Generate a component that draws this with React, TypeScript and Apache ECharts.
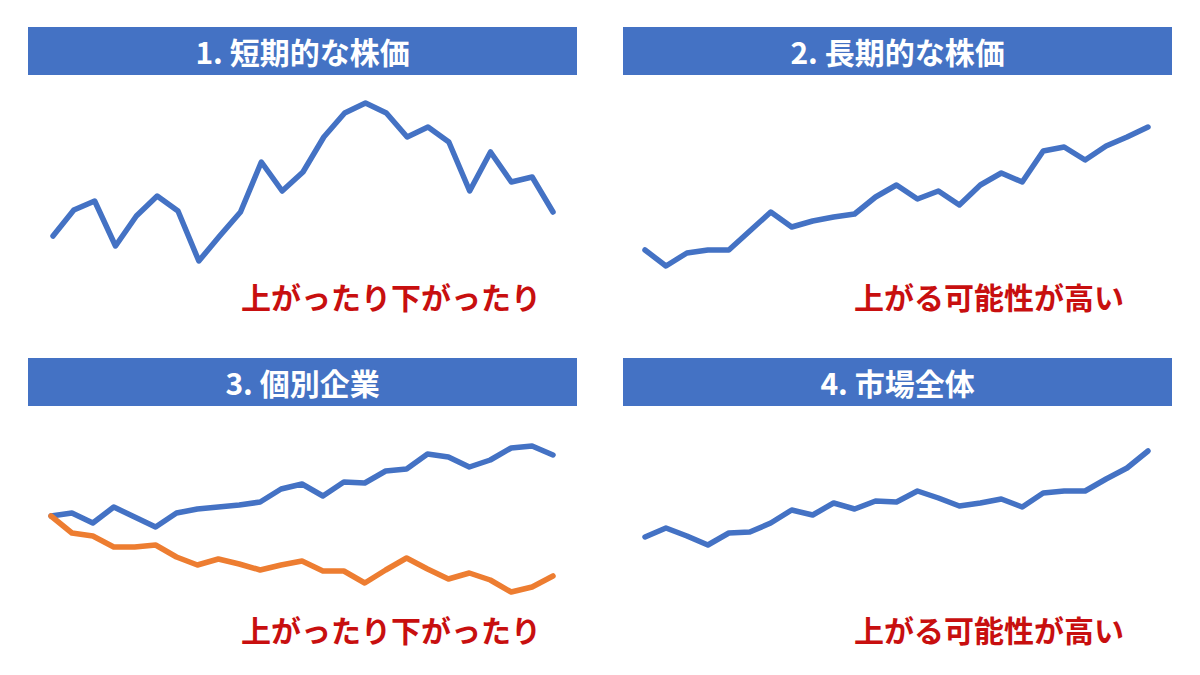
import React, { useEffect, useRef } from "react";
import * as echarts from "echarts";

const periods = ["1", "2", "3", "4", "5", "6", "7", "8", "9", "10", "11", "12", "13", "14", "15", "16", "17", "18", "19", "20", "21", "22", "23", "24", "25"];

const shortTerm = [64, 90, 99, 54, 84, 104, 89, 39, 64, 88, 138, 109, 128, 163, 187, 197, 187, 163, 173, 158, 109, 148, 118, 123, 88];
const longTerm = [50, 34, 47, 50, 50, 69, 88, 73, 79, 83, 86, 103, 115, 101, 109, 95, 115, 127, 118, 149, 153, 140, 154, 163, 173];
const companyUp = [104, 107, 97, 113, 103, 93, 107, 111, 113, 115, 118, 131, 136, 124, 138, 137, 149, 151, 166, 163, 153, 160, 172, 174, 165];
const companyDown = [104, 87, 84, 73, 73, 75, 63, 55, 61, 56, 50, 55, 59, 49, 49, 37, 50, 62, 51, 41, 47, 40, 28, 33, 44];
const market = [83, 92, 84, 75, 87, 88, 97, 110, 105, 117, 111, 119, 118, 129, 122, 114, 117, 121, 113, 127, 129, 129, 141, 152, 169];

const titles = ["1. 短期的な株価", "2. 長期的な株価", "3. 個別企業", "4. 市場全体"];
const notes = ["上がったり下がったり", "上がる可能性が高い", "上がったり下がったり", "上がる可能性が高い"];

const BLUE = "#4472C4";
const ORANGE = "#ED7D31";
const RED = "#C80F0F";
const FONT = '"Noto Sans CJK JP", "Noto Sans", sans-serif';

export default function App() {
  const ref = useRef<HTMLDivElement>(null);

  useEffect(() => {
    if (!ref.current) return;
    const chart = echarts.init(ref.current, undefined, { renderer: "svg" });

    const grids = [
      { left: 53, top: 90, width: 500, height: 180 },
      { left: 645, top: 90, width: 503, height: 180 },
      { left: 51, top: 420, width: 502, height: 200 },
      { left: 645, top: 420, width: 503, height: 200 },
    ];
    const yRanges = [
      [30, 210],
      [30, 210],
      [0, 200],
      [0, 200],
    ];

    const headerBoxes = [
      { x: 28, y: 27 },
      { x: 623, y: 27 },
      { x: 28, y: 358 },
      { x: 623, y: 358 },
    ];
    const notePos = [
      { x: 391, y: 296 },
      { x: 989, y: 296 },
      { x: 391, y: 629 },
      { x: 989, y: 629 },
    ];

    const graphic: any[] = [];
    headerBoxes.forEach((b, i) => {
      graphic.push({
        type: "rect",
        shape: { x: b.x, y: b.y, width: 549, height: 48 },
        style: { fill: BLUE },
        silent: true,
      });
      graphic.push({
        type: "text",
        x: b.x + 274.5,
        y: b.y + 24,
        style: {
          text: titles[i],
          fill: "#ffffff",
          fontSize: 30,
          fontWeight: "bold",
          fontFamily: FONT,
          align: "center",
          verticalAlign: "middle",
        },
        silent: true,
      });
    });
    notePos.forEach((p, i) => {
      graphic.push({
        type: "text",
        x: p.x,
        y: p.y,
        style: {
          text: notes[i],
          fill: RED,
          fontSize: 30,
          fontWeight: "bold",
          fontFamily: FONT,
          align: "center",
          verticalAlign: "middle",
        },
        silent: true,
      });
    });

    const lineSeries = (data: number[], idx: number, color: string) => ({
      type: "line",
      xAxisIndex: idx,
      yAxisIndex: idx,
      data,
      showSymbol: false,
      symbol: "none",
      lineStyle: { color, width: 5.5, cap: "round", join: "round" },
      z: 3,
    });

    chart.setOption({
      animation: false,
      backgroundColor: "#ffffff",
      grid: grids.map((g) => ({ ...g, containLabel: false })),
      xAxis: grids.map((_, i) => ({
        type: "category",
        gridIndex: i,
        data: periods,
        boundaryGap: false,
        show: false,
      })),
      yAxis: grids.map((_, i) => ({
        type: "value",
        gridIndex: i,
        min: yRanges[i][0],
        max: yRanges[i][1],
        show: false,
        splitLine: { show: false },
      })),
      series: [
        lineSeries(shortTerm, 0, BLUE),
        lineSeries(longTerm, 1, BLUE),
        lineSeries(companyUp, 2, BLUE),
        lineSeries(companyDown, 2, ORANGE),
        lineSeries(market, 3, BLUE),
      ],
      graphic,
    });

    return () => chart.dispose();
  }, []);

  return (
    <div
      ref={ref}
      style={{ position: "absolute", left: 0, top: 0, width: 1200, height: 675, background: "#ffffff" }}
    />
  );
}
